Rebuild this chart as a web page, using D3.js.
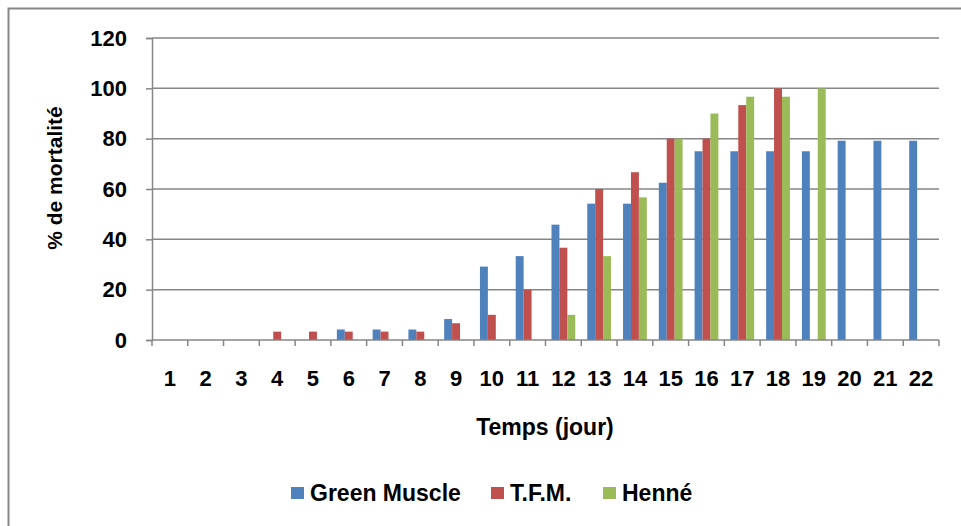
<!DOCTYPE html>
<html>
<head>
<meta charset="utf-8">
<script src="https://cdn.jsdelivr.net/npm/d3@7"></script>
<style>
  body { margin: 0; background: #fff; }
  text { font-family: "Liberation Sans", Arial, sans-serif; font-weight: bold; fill: #000; }
</style>
</head>
<body>
<script>
// days 1..22
const days = d3.range(1, 23).map(String);
const seriesNames = ['Green Muscle', 'T.F.M.', 'Henné'];
const colors = ['#4F81BD', '#C0504D', '#9BBB59'];

const greenMuscle = [0, 0, 0, 0, 0, 4.17, 4.17, 4.17, 8.33, 29.17, 33.33, 45.83, 54.17, 54.17, 62.5, 75, 75, 75, 75, 79.17, 79.17, 79.17];
const tfm = [0, 0, 0, 3.33, 3.33, 3.33, 3.33, 3.33, 6.67, 10, 20, 36.67, 60, 66.67, 80, 80, 93.33, 100, 0, 0, 0, 0];
const henne = [0, 0, 0, 0, 0, 0, 0, 0, 0, 0, 0, 10, 33.33, 56.67, 80, 90, 96.67, 96.67, 100, 0, 0, 0];
const yTicks = [0, 20, 40, 60, 80, 100, 120];

const values = [greenMuscle, tfm, henne];

const W = 961, H = 526;
const margin = { top: 38, right: 22, bottom: 186, left: 152 };
const width = 939 - margin.left;
const height = 340 - margin.top;

const svg = d3.select('body').append('svg')
    .attr('width', W)
    .attr('height', H);

// outer chart border
svg.append('rect')
    .attr('x', 8.5).attr('y', 8.5)
    .attr('width', W + 20).attr('height', H + 20)
    .attr('fill', 'none')
    .attr('stroke', '#868686')
    .attr('stroke-width', 2);

const g = svg.append('g')
    .attr('transform', `translate(${margin.left}, ${margin.top})`);

const x0 = d3.scaleBand()
    .domain(days)
    .range([0, width])
    .paddingInner(0.335)
    .paddingOuter(0.1675);

// the band scale above is only for the bars; the category slots are plain
const slot = width / days.length;

const x1 = d3.scaleBand()
    .domain(seriesNames)
    .range([0, x0.bandwidth()]);

const y = d3.scaleLinear()
    .domain([0, 120])
    .range([height, 0]);

// gridlines
g.append('g')
    .selectAll('line')
    .data(yTicks.filter(d => d > 0))
    .enter().append('line')
    .attr('x1', 0)
    .attr('x2', width)
    .attr('y1', d => y(d))
    .attr('y2', d => y(d))
    .attr('stroke', '#868686')
    .attr('stroke-width', 1.5);

// bars
const dayGroups = g.append('g')
    .selectAll('g')
    .data(days)
    .enter().append('g')
    .attr('transform', d => `translate(${x0(d)}, 0)`);

dayGroups.selectAll('rect')
    .data((d, i) => seriesNames.map((s, k) => ({ s, v: values[k][i], k })))
    .enter().append('rect')
    .filter(d => d.v > 0)
    .attr('x', d => x1(d.s))
    .attr('y', d => y(d.v))
    .attr('width', x1.bandwidth())
    .attr('height', d => y(0) - y(d.v))
    .attr('fill', d => colors[d.k]);

// y axis
const yAxis = g.append('g')
    .call(d3.axisLeft(y).tickValues(yTicks).tickSize(6).tickPadding(19));

// x axis: ticks at the category boundaries, labels at the centres
const xAxis = g.append('g')
    .attr('transform', `translate(0, ${height})`);

xAxis.append('line')
    .attr('x1', 0).attr('x2', width)
    .attr('stroke', '#868686').attr('stroke-width', 1.5);

xAxis.selectAll('.tick')
    .data(d3.range(days.length + 1))
    .enter().append('line')
    .attr('x1', d => d * slot).attr('x2', d => d * slot)
    .attr('y1', 0).attr('y2', 6)
    .attr('stroke', '#868686').attr('stroke-width', 1.5);

xAxis.selectAll('.lbl')
    .data(days)
    .enter().append('text')
    .attr('x', d => x0(d) + x0.bandwidth() / 2)
    .attr('y', 46)
    .attr('text-anchor', 'middle')
    .style('font-size', '22px')
    .text(d => d);

yAxis.select('.domain').attr('stroke', '#868686').attr('stroke-width', 1.5);
yAxis.selectAll('.tick line').attr('stroke', '#868686').attr('stroke-width', 1.5);
yAxis.selectAll('.tick text')
    .style('font-size', '22px')
    .style('font-family', '"Liberation Sans", Arial, sans-serif')
    .style('font-weight', 'bold')
    .attr('fill', '#000');

// axis titles
svg.append('text')
    .attr('transform', 'rotate(-90)')
    .attr('x', -178)
    .attr('y', 62)
    .attr('text-anchor', 'middle')
    .style('font-size', '21px')
    .text('% de mortalité');

svg.append('text')
    .attr('x', 545)
    .attr('y', 435)
    .attr('text-anchor', 'middle')
    .style('font-size', '23px')
    .text('Temps (jour)');

// legend
const legendX = [291, 491, 603];
const legend = svg.append('g')
    .selectAll('g')
    .data(seriesNames)
    .enter().append('g')
    .attr('transform', (d, i) => `translate(${legendX[i]}, 487)`);

legend.append('rect')
    .attr('width', 13).attr('height', 12)
    .attr('fill', (d, i) => colors[i]);

legend.append('text')
    .attr('x', 19)
    .attr('y', 14)
    .style('font-size', '23px')
    .text(d => d);
</script>
</body>
</html>
